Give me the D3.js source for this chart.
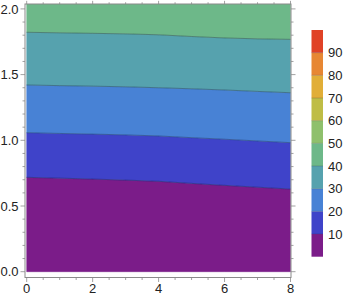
<!DOCTYPE html>
<html>
<head>
<meta charset="utf-8">
<script src="https://cdn.jsdelivr.net/npm/d3@7"></script>
<style>
  html, body { margin: 0; padding: 0; background: #fff; }
  svg { display: block; }
  text { font-family: "Liberation Sans", Arial, sans-serif; }
</style>
</head>
<body>
<div id="chart"></div>
<script>
// ---- data ----
const xSamples = [0, 1, 2, 3, 4, 5, 6, 7, 8];
const line10 = [0.718, 0.712, 0.705, 0.697, 0.688, 0.672, 0.657, 0.643, 0.629];
const line20 = [1.058, 1.052, 1.047, 1.041, 1.033, 1.020, 1.008, 0.995, 0.982];
const line30 = [1.421, 1.416, 1.412, 1.407, 1.400, 1.392, 1.383, 1.372, 1.362];
const line40 = [1.822, 1.818, 1.814, 1.810, 1.803, 1.790, 1.779, 1.772, 1.768];
const contourLevels = [10, 20, 30, 40];
const legendLevels = [0, 10, 20, 30, 40, 50, 60, 70, 80, 90, 100];
const legendTicks = [10, 20, 30, 40, 50, 60, 70, 80, 90];
const bandColors = ["#7b1c89", "#3f43c9", "#4882d5", "#56a2ae", "#6db889",
                    "#8fc06c", "#bfbd45", "#e1ae37", "#e78733", "#e04226"];
const xTicks = [0, 2, 4, 6, 8];
const yTicks = [0, 0.5, 1.0, 1.5, 2.0];
const xRange = [0, 8];
const yRange = [0, 2.04];

// ---- layout ----
const W = 349, H = 297;
const svg = d3.select("#chart").append("svg").attr("width", W).attr("height", H);

const x = d3.scaleLinear().domain([0, 8]).range([26.7, 290.5]);
const y = d3.scaleLinear().domain([0, 2]).range([271.7, 8.9]);

const frame = { x0: 25, x1: 291, y0: 4, y1: 277.5 };

svg.append("clipPath").attr("id", "clip").append("rect")
  .attr("x", frame.x0).attr("y", frame.y0)
  .attr("width", frame.x1 - frame.x0).attr("height", frame.y1 - frame.y0);

const g = svg.append("g").attr("clip-path", "url(#clip)");

const contourLines = [line10, line20, line30, line40];
const lowerEdge = xSamples.map(() => yRange[0]);
const upperEdge = xSamples.map(() => yRange[1]);
const bounds = [lowerEdge, ...contourLines, upperEdge];

for (let i = 0; i < bounds.length - 1; i++) {
  const lo = bounds[i], hi = bounds[i + 1];
  const area = d3.area()
    .x((d, j) => x(xSamples[j]))
    .y0((d, j) => y(lo[j]))
    .y1((d, j) => y(hi[j]));
  g.append("path").datum(xSamples).attr("d", area)
    .attr("fill", bandColors[i]).attr("stroke", bandColors[i]).attr("stroke-width", 0.5);
}
contourLines.forEach((ln, k) => {
  const line = d3.line().x((d, j) => x(xSamples[j])).y((d, j) => y(ln[j]));
  g.append("path").datum(xSamples).attr("d", line)
    .attr("fill", "none").attr("stroke", "rgba(20,30,60,0.45)").attr("stroke-width", 0.8)
    .attr("data-level", contourLevels[k]);
});

// frame
const frameColor = "#8a8a8a";
svg.append("rect")
  .attr("x", frame.x0).attr("y", frame.y0)
  .attr("width", frame.x1 - frame.x0).attr("height", frame.y1 - frame.y0)
  .attr("fill", "none").attr("stroke", frameColor).attr("stroke-width", 1);

// ticks
const tickG = svg.append("g").attr("stroke", frameColor).attr("stroke-width", 0.8);
const yMinor = d3.range(0, 21).map(d => d / 10);
yMinor.forEach(v => {
  const major = yTicks.some(t => Math.abs(t - v) < 1e-9);
  const len = major ? 4.5 : 2.5;
  tickG.append("line").attr("x1", frame.x0 - len).attr("x2", frame.x0)
    .attr("y1", y(v)).attr("y2", y(v));
  tickG.append("line").attr("x1", frame.x1).attr("x2", frame.x1 + len)
    .attr("y1", y(v)).attr("y2", y(v));
});
const xMinor = d3.range(0, 17).map(d => d / 2);
xMinor.forEach(v => {
  const major = xTicks.includes(v);
  const len = major ? 4.5 : 2.5;
  tickG.append("line").attr("x1", x(v)).attr("x2", x(v))
    .attr("y1", frame.y1).attr("y2", frame.y1 + len);
  tickG.append("line").attr("x1", x(v)).attr("x2", x(v))
    .attr("y1", frame.y0 - len * 0.7).attr("y2", frame.y0);
});

// tick labels
const fmtY = d3.format(".1f");
svg.append("g").selectAll("text").data(yTicks).join("text")
  .attr("x", 18.5).attr("y", d => y(d)).attr("dy", "0.36em")
  .attr("text-anchor", "end").attr("font-size", 13).attr("fill", "#222")
  .text(d => fmtY(d));
svg.append("g").selectAll("text").data(xTicks).join("text")
  .attr("x", d => x(d)).attr("y", 293)
  .attr("text-anchor", "middle").attr("font-size", 13).attr("fill", "#222")
  .text(d => d);

// legend (color bar)
const ly = d3.scaleLinear().domain([0, 100]).range([256.7, 30]);
const lg = svg.append("g");
for (let i = 0; i < legendLevels.length - 1; i++) {
  lg.append("rect")
    .attr("x", 311.5).attr("width", 11.5)
    .attr("y", ly(legendLevels[i + 1]))
    .attr("height", ly(legendLevels[i]) - ly(legendLevels[i + 1]))
    .attr("fill", bandColors[i]);
}
legendTicks.forEach(v => {
  lg.append("line").attr("x1", 311.5).attr("x2", 323)
    .attr("y1", ly(v)).attr("y2", ly(v))
    .attr("stroke", "rgba(40,40,60,0.35)").attr("stroke-width", 0.6);
});
const legendAxis = d3.axisRight(ly).tickValues(legendTicks).tickSize(0).tickPadding(5);
const la = lg.append("g").attr("transform", "translate(323,0)").call(legendAxis);
la.select(".domain").remove();
la.selectAll("text").attr("font-size", 13).attr("fill", "#222")
  .attr("font-family", "'Liberation Sans', Arial, sans-serif");
</script>
</body>
</html>
